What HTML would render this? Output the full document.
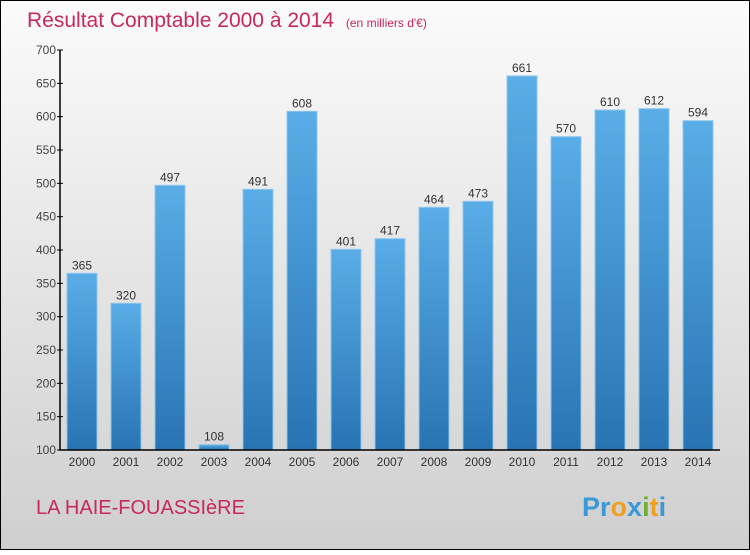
<!DOCTYPE html>
<html><head><meta charset="utf-8"><style>
body{margin:0}
#c{width:750px;height:550px;position:relative;font-family:"Liberation Sans",sans-serif}
</style></head><body>
<div id="c">
<svg id="s" width="750" height="550" xmlns="http://www.w3.org/2000/svg">
<defs>
<linearGradient id="bg" x1="0" y1="0" x2="0" y2="1"><stop offset="0" stop-color="#fbfbfb"/><stop offset="1" stop-color="#cfcfcf"/></linearGradient>
<linearGradient id="bar" x1="0" y1="0" x2="0" y2="1"><stop offset="0" stop-color="#5aade6"/><stop offset="1" stop-color="#2874b2"/></linearGradient>
</defs>
<rect x="0.5" y="0.5" width="749" height="549" fill="url(#bg)" stroke="#000"/>
<text x="27" y="27" font-size="21" fill="#c8285a">Résultat Comptable 2000 à 2014 <tspan font-size="12" dx="6">(en milliers d'€)</tspan></text>
<g id="bars"></g>
<g id="axes"></g>
<text x="36" y="514" font-size="20" fill="#c8285a">LA HAIE-FOUASSIèRE</text>
<text x="582" y="516" font-size="27" font-weight="bold" fill="#3a9ad8"><tspan fill="#3a9ad8">Pr</tspan><tspan fill="#f0a020">o</tspan><tspan fill="#3a9ad8">x</tspan><tspan fill="#70b030">i</tspan><tspan fill="#f0a020">t</tspan><tspan fill="#3a9ad8">i</tspan></text>
</svg>
</div>
<script>
const years=["2000","2001","2002","2003","2004","2005","2006","2007","2008","2009","2010","2011","2012","2013","2014"];
const values=[365,320,497,108,491,608,401,417,464,473,661,570,610,612,594];
const ticks=[100,150,200,250,300,350,400,450,500,550,600,650,700];
const NS="http://www.w3.org/2000/svg";
const x0=60,slot=44,yMin=100,yMax=700,yTop=50,yBot=450;
const y=v=>yBot-(v-yMin)/(yMax-yMin)*(yBot-yTop);
function mk(t,a,p){const e=document.createElementNS(NS,t);for(const k in a)e.setAttribute(k,a[k]);p.appendChild(e);return e;}
const gb=document.getElementById('bars'),ga=document.getElementById('axes');
years.forEach((yr,i)=>{
 const bx=x0+i*slot+7;
 const r=mk('rect',{x:bx,y:y(values[i]),width:30,height:yBot-y(values[i]),fill:'url(#bar)',stroke:'#8cc6ef','stroke-width':1},gb);
 
 
 const t=mk('text',{x:bx+15,y:y(values[i])-4,'font-size':12,fill:'#333','text-anchor':'middle'},gb);t.textContent=values[i];
 
 
 const xl=mk('text',{x:bx+15,y:466,'font-size':12,fill:'#333','text-anchor':'middle'},ga);xl.textContent=yr;
 
 
});
ticks.forEach(v=>{
 mk('line',{x1:57,x2:63,y1:y(v),y2:y(v),stroke:'#000'},ga);
 const t=mk('text',{x:56,y:y(v)+4,'font-size':12,fill:'#444','text-anchor':'end'},ga);t.textContent=v;
 
 
});
const ax=mk('path',{d:`M${x0} ${yTop}V${yBot}H${x0+years.length*slot}`,stroke:'#000',fill:'none','stroke-width':1.5},ga);


</script>
</body></html>
